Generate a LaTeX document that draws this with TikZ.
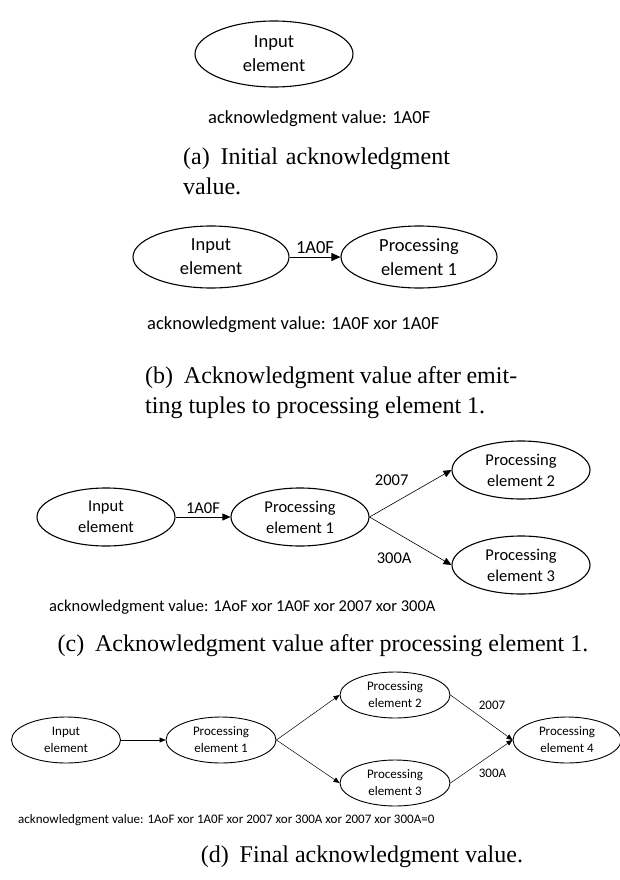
\documentclass[tikz,border=0pt]{standalone}
\usepackage{fontspec}
\setmainfont{Liberation Serif}
\newfontfamily\calibri{Carlito}
\usetikzlibrary{shapes.geometric, arrows.meta, positioning}

\tikzset{
  elem/.style={draw, ellipse, line width=1.1pt, inner sep=0pt, align=center},
  flow/.style={-{Triangle[length=8pt,width=7pt]}, line width=0.6pt},
  thinflow/.style={-{Triangle[length=6pt,width=5pt]}, line width=0.5pt},
  ackval/.style={anchor=west, inner sep=0pt},
  capt/.style={inner sep=0pt, font=\fontsize{24}{30}\selectfont}
}
\newcommand{\bigtxt}{\calibri\fontsize{18.5}{24}\selectfont}
\newcommand{\midtxt}{\calibri\fontsize{16.5}{21}\selectfont}
\newcommand{\smltxt}{\calibri\fontsize{13}{17}\selectfont}

\begin{document}
\begin{tikzpicture}[x=1pt,y=-1pt]
\useasboundingbox (0,0) rectangle (620,880);

% (a) initial value
\node[elem, minimum width=158, minimum height=66, font=\bigtxt] (ina) at (274,54) {Input\\element};
\node[ackval, font=\bigtxt] (acka) at (208,119) {acknowledgment value: 1A0F};
\node[capt, anchor=north west, text width=272pt, align=left] (capa) at (183,148) {(a)\hspace{0.45em}Initial acknowledgment\\value.};

% (b) after emitting
\node[elem, minimum width=156, minimum height=62, font=\bigtxt] (inb) at (211,257) {Input\\element};
\node[elem, minimum width=156, minimum height=62, font=\bigtxt] (pe1b) at (419,257) {Processing\\element 1};
\draw[flow, -{Triangle[length=9pt,width=8pt]}] (inb) -- node[above, font=\bigtxt] {1A0F} (pe1b);
\node[ackval, font=\bigtxt] (ackb) at (147,325) {acknowledgment value: 1A0F xor 1A0F};
\node[capt, anchor=north west, text width=372pt, align=justify] (capb) at (145,366) {(b)\hspace{0.45em}Acknowledgment value after emit-\linebreak ting tuples to processing element 1.};

% (c) after processing element 1
\node[elem, minimum width=138, minimum height=58, font=\midtxt] (inc) at (106,517) {Input\\element};
\node[elem, minimum width=138, minimum height=58, font=\midtxt] (pe1c) at (300,517) {Processing\\element 1};
\node[elem, minimum width=138, minimum height=58, font=\midtxt] (pe2c) at (521,470) {Processing\\element 2};
\node[elem, minimum width=138, minimum height=58, font=\midtxt] (pe3c) at (521,565) {Processing\\element 3};
\draw[flow] (inc) -- node[above, font=\midtxt] {1A0F} (pe1c);
\draw[flow] (pe1c.east) -- node[pos=0.27, above=15pt, font=\midtxt] {2007} (pe2c.west);
\draw[flow] (pe1c.east) -- node[pos=0.3, below=18pt, font=\midtxt] {300A} (pe3c.west);
\node[ackval, font=\midtxt] (ackc) at (49,607) {acknowledgment value: 1AoF xor 1A0F xor 2007 xor 300A};
\node[capt] (capc) at (323,646) {(c)\hspace{0.45em}Acknowledgment value after processing element 1.};

% (d) final value
\node[elem, line width=0.9pt, minimum width=109, minimum height=46, font=\smltxt] (ind) at (66,740) {Input\\element};
\node[elem, line width=0.9pt, minimum width=110, minimum height=46, font=\smltxt] (pe1d) at (221,740) {Processing\\element 1};
\node[elem, line width=0.9pt, minimum width=110, minimum height=46, font=\smltxt] (pe2d) at (395,695) {Processing\\element 2};
\node[elem, line width=0.9pt, minimum width=110, minimum height=46, font=\smltxt] (pe3d) at (395,783) {Processing\\element 3};
\node[elem, line width=0.9pt, minimum width=108, minimum height=46, font=\smltxt] (pe4d) at (567,740) {Processing\\element 4};
\draw[thinflow] (ind) -- (pe1d);
\draw[thinflow] (pe1d.east) -- (pe2d.west);
\draw[thinflow] (pe1d.east) -- (pe3d.west);
\draw[thinflow] (pe2d.east) -- node[pos=0.4, anchor=south west, font=\smltxt] {2007} (pe4d.west);
\draw[thinflow] (pe3d.east) -- node[pos=0.4, anchor=north west, font=\smltxt] {300A} (pe4d.west);
\node[ackval, font=\smltxt] (ackd) at (18,820) {acknowledgment value: 1AoF xor 1A0F xor 2007 xor 300A xor 2007 xor 300A=0};
\node[capt] (capd) at (362,857) {(d)\hspace{0.45em}Final acknowledgment value.};
\end{tikzpicture}
\end{document}
